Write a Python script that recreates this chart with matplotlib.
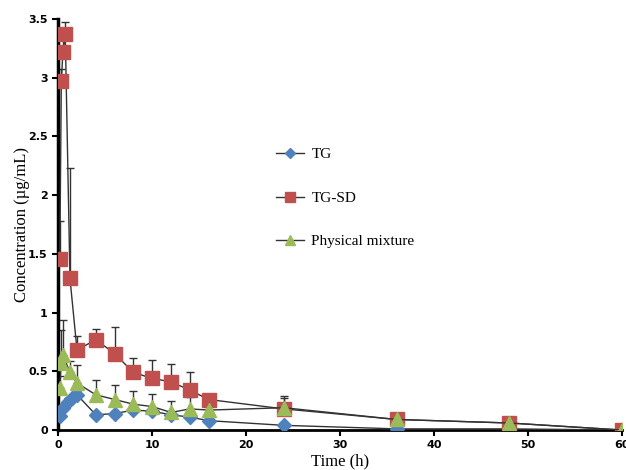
import matplotlib
matplotlib.use("Agg")
import matplotlib.pyplot as plt
import numpy as np

# sampling times (h) per group
tg_time = [0.17, 0.5, 1, 1.5, 2, 4, 6, 8, 10, 12, 14, 16, 24, 36, 48, 60]
tgsd_time = [0.17, 0.33, 0.5, 0.75, 1.25, 2, 4, 6, 8, 10, 12, 14, 16, 24, 36, 48, 60]
pm_time = [0.17, 0.33, 0.5, 1.25, 2, 4, 6, 8, 10, 12, 14, 16, 24, 36, 48, 60]

# mean concentration (ug/mL)
tg_conc = [0.12, 0.19, 0.24, 0.27, 0.30, 0.13, 0.14, 0.17, 0.16, 0.13, 0.11, 0.08, 0.04, 0.01, 0.01, 0.0]
tgsd_conc = [1.46, 2.97, 3.22, 3.37, 1.29, 0.68, 0.77, 0.65, 0.49, 0.44, 0.41, 0.34, 0.26, 0.18, 0.09, 0.06, 0.0]
pm_conc = [0.36, 0.57, 0.64, 0.49, 0.40, 0.30, 0.26, 0.22, 0.20, 0.15, 0.18, 0.17, 0.19, 0.09, 0.06, 0.0]

# upper SD
tg_sd = [0.03, 0.03, 0.03, 0.03, 0.03, 0.02, 0.02, 0.03, 0.03, 0.02, 0.02, 0.02, 0.01, 0.01, 0.01, 0.0]
tgsd_sd = [0.32, 0.1, 0.1, 0.1, 0.94, 0.12, 0.09, 0.23, 0.12, 0.16, 0.15, 0.15, 0.03, 0.11, 0.02, 0.04, 0.0]
pm_sd = [0.1, 0.28, 0.30, 0.1, 0.15, 0.13, 0.12, 0.11, 0.11, 0.10, 0.10, 0.03, 0.08, 0.02, 0.03, 0.0]

fig = plt.figure(figsize=(6.26, 4.70), dpi=100)
ax = fig.add_axes([0.093, 0.085, 0.901, 0.875])

series = [
    ("TG", tg_time, tg_conc, tg_sd, "D", "#4F81BD", 7),
    ("TG-SD", tgsd_time, tgsd_conc, tgsd_sd, "s", "#C0504D", 10),
    ("Physical mixture", pm_time, pm_conc, pm_sd, "^", "#9BBB59", 10),
]

for name, t, c, sd, mk, col, ms in series:
    ax.errorbar(t, c, yerr=[np.zeros(len(sd)), sd], fmt="none", ecolor="#333333",
                elinewidth=1, capsize=3, capthick=1, zorder=2)
    ax.plot(t, c, "-", color="#333333", lw=1, marker=mk, ms=ms,
            mfc=col, mec=col, label=name, zorder=3)

ax.set_xlim(0, 60)
ax.set_ylim(0, 3.5)
ax.set_xticks(range(0, 61, 10))
ax.set_yticks([0, 0.5, 1, 1.5, 2, 2.5, 3, 3.5])
ax.set_yticklabels(["0", "0.5", "1", "1.5", "2", "2.5", "3", "3.5"])

for s in ["top", "right"]:
    ax.spines[s].set_visible(False)
ax.spines["left"].set_linewidth(2.5)
ax.spines["bottom"].set_linewidth(2)
ax.tick_params(direction="out", length=4, width=1.5, labelsize=8)
for lab in ax.get_xticklabels() + ax.get_yticklabels():
    lab.set_fontweight("bold")

ax.set_xlabel("Time (h)", family="Liberation Serif", fontsize=12, labelpad=2)
ax.set_ylabel("Concentration (\u00b5g/mL)", family="Liberation Serif", fontsize=12, labelpad=-1)

ax.legend(loc="upper left", bbox_to_anchor=(0.362, 0.72), frameon=False,
          prop={"family": "Liberation Serif", "size": 11}, labelspacing=1.95,
          handlelength=1.8, handletextpad=0.5, markerscale=0.75)

fig.savefig("out.png", dpi=100)
